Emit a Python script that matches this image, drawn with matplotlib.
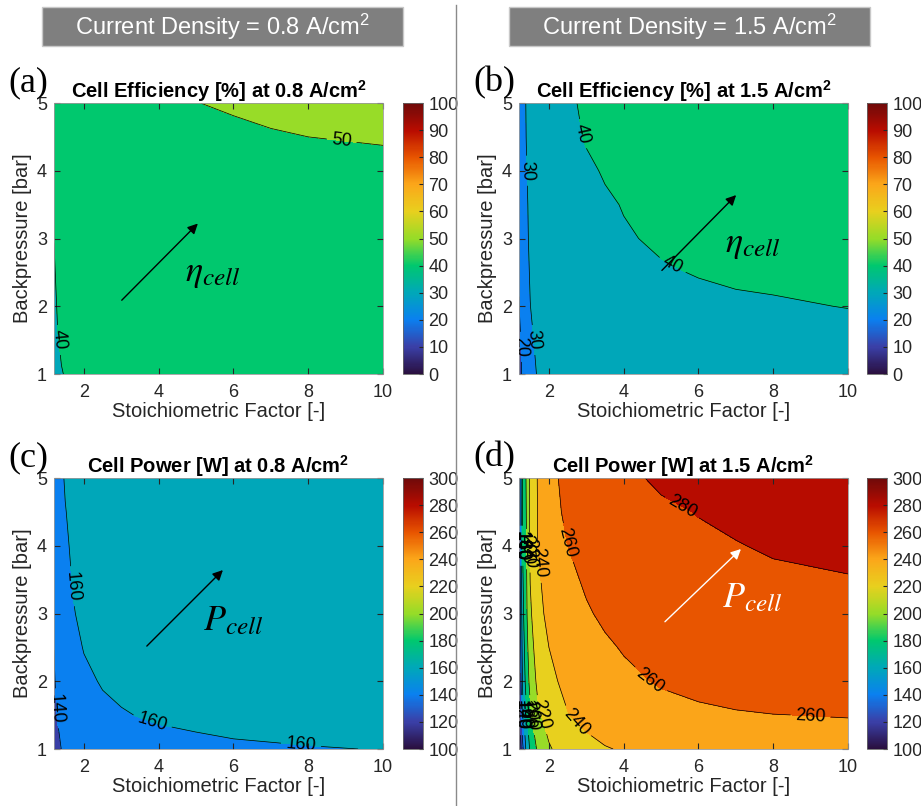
#!/usr/bin/env python3

import matplotlib
matplotlib.use("Agg")
import matplotlib.pyplot as plt
import numpy as np
from matplotlib.colors import LinearSegmentedColormap, Normalize
from matplotlib.patches import Rectangle
from matplotlib.lines import Line2D
import matplotlib.cm as cm

plt.rcParams['font.family'] = ['Liberation Sans', 'DejaVu Sans']
plt.rcParams['mathtext.fontset'] = 'custom'
plt.rcParams['mathtext.rm'] = 'Liberation Sans'
plt.rcParams['mathtext.bf'] = 'Liberation Sans:bold'
plt.rcParams['mathtext.it'] = 'Liberation Sans:italic'

# grid (stoichiometric factor x backpressure)
stoich = [1.2, 1.3, 1.4, 1.5, 1.7, 2, 2.5, 3, 3.5, 4, 5, 6, 7, 8, 10]
backpressure = [1, 1.5, 2, 2.5, 3, 3.5, 4, 4.5, 5]
backpressure_fine = [1, 1.25, 1.5, 2, 2.5, 3, 3.5, 4, 4.5, 5]

# cell efficiency [%] at 0.8 A/cm2 (rows = backpressure)
eff_08 = [
    [36.9, 39.0, 39.8, 40.2, 40.9, 41.6, 42.3, 42.8, 43.1, 43.3, 43.6, 43.9, 44.2, 44.4, 44.6],
    [37.7, 39.8, 40.6, 41.0, 41.7, 42.4, 43.1, 43.6, 43.9, 44.1, 44.4, 44.7, 45.0, 45.2, 45.4],
    [38.5, 40.6, 41.4, 41.8, 42.5, 43.2, 43.9, 44.4, 44.7, 44.9, 45.2, 45.5, 45.8, 46.0, 46.2],
    [39.3, 41.4, 42.2, 42.6, 43.3, 44.0, 44.7, 45.2, 45.5, 45.7, 46.0, 46.3, 46.6, 46.8, 47.0],
    [40.1, 42.2, 43.0, 43.4, 44.1, 44.8, 45.5, 46.0, 46.3, 46.5, 46.8, 47.1, 47.4, 47.6, 47.8],
    [40.9, 43.0, 43.8, 44.2, 44.9, 45.6, 46.3, 46.8, 47.1, 47.3, 47.6, 47.9, 48.2, 48.4, 48.6],
    [41.7, 43.8, 44.6, 45.0, 45.7, 46.4, 47.1, 47.6, 47.9, 48.1, 48.4, 48.7, 49.0, 49.2, 49.4],
    [42.5, 44.6, 45.4, 45.8, 46.5, 47.2, 47.9, 48.4, 48.7, 48.9, 49.2, 49.5, 49.8, 50.0, 50.2],
    [43.3, 45.4, 46.2, 46.6, 47.3, 48.0, 48.7, 49.2, 49.5, 49.7, 49.96, 50.3, 50.6, 50.8, 51.0],
]

# cell efficiency [%] at 1.5 A/cm2
eff_15 = [
    [15.9, 21.7, 25.2, 27.5, 30.5, 32.8, 34.8, 35.9, 36.5, 36.9, 37.5, 37.8, 38.1, 38.2, 38.4],
    [17.3, 23.0, 26.4, 28.7, 31.5, 33.8, 35.8, 36.8, 37.4, 37.8, 38.3, 38.7, 38.9, 39.0, 39.3],
    [19.8, 24.5, 27.7, 29.9, 32.6, 34.8, 36.7, 37.6, 38.2, 38.6, 39.1, 39.5, 39.7, 39.8, 40.05],
    [20.5, 25.1, 28.4, 30.5, 33.2, 35.5, 37.3, 38.3, 38.9, 39.3, 39.8, 40.1, 40.3, 40.4, 40.6],
    [21.0, 25.6, 28.9, 31.1, 33.8, 36.0, 37.8, 38.8, 39.4, 39.8, 40.3, 40.6, 40.8, 41.0, 41.2],
    [21.4, 26.0, 29.2, 31.4, 34.1, 36.3, 38.2, 39.2, 39.7, 40.1, 40.7, 41.0, 41.2, 41.3, 41.5],
    [21.8, 26.4, 29.7, 31.8, 34.5, 36.7, 38.6, 39.6, 40.2, 40.6, 41.1, 41.4, 41.6, 41.7, 41.9],
    [22.3, 27.0, 30.3, 32.4, 35.1, 37.3, 39.2, 40.2, 40.8, 41.2, 41.7, 42.0, 42.2, 42.3, 42.5],
    [22.6, 27.3, 30.6, 32.7, 35.4, 37.6, 39.5, 40.5, 41.1, 41.5, 42.0, 42.3, 42.5, 42.6, 42.8],
]

# cell power [W] at 0.8 A/cm2 (rows = backpressure_fine)
power_08 = [
    [120.1, 133.7, 140.5, 144.6, 149.3, 152.8, 155.5, 156.9, 157.7, 158.3, 159.0, 159.4, 159.6, 159.8, 160.1],
    [126.1, 138.0, 144.0, 147.5, 151.6, 154.7, 157.1, 158.3, 159.0, 159.5, 160.0, 160.4, 160.6, 160.8, 161.0],
    [132.1, 142.3, 147.4, 150.4, 153.9, 156.5, 158.6, 159.6, 160.2, 160.6, 161.1, 161.4, 161.6, 161.8, 162.0],
    [137.6, 146.4, 150.8, 153.4, 156.4, 158.7, 160.5, 161.3, 161.9, 162.2, 162.6, 162.9, 163.1, 163.2, 163.4],
    [140.2, 148.5, 152.7, 155.2, 158.1, 160.3, 162.0, 162.9, 163.4, 163.7, 164.1, 164.4, 164.6, 164.7, 164.8],
    [141.6, 149.9, 154.1, 156.6, 159.5, 161.6, 163.3, 164.1, 164.6, 164.9, 165.4, 165.6, 165.8, 165.9, 166.0],
    [142.5, 150.8, 155.0, 157.5, 160.4, 162.5, 164.2, 165.0, 165.5, 165.8, 166.3, 166.5, 166.7, 166.8, 166.9],
    [143.5, 151.8, 156.0, 158.5, 161.4, 163.5, 165.2, 166.0, 166.5, 166.8, 167.3, 167.5, 167.7, 167.8, 167.9],
    [144.6, 152.9, 157.1, 159.6, 162.5, 164.6, 166.3, 167.1, 167.6, 167.9, 168.4, 168.6, 168.8, 168.9, 169.0],
    [145.9, 154.2, 158.4, 160.9, 163.8, 165.9, 167.6, 168.4, 168.9, 169.2, 169.7, 169.9, 170.1, 170.2, 170.3],
]

# cell power [W] at 1.5 A/cm2 (rows = backpressure_fine)
power_15 = [
    [101, 136.3, 165.5, 183, 203, 218, 229.7, 235.5, 239, 241.3, 244.3, 246, 247.2, 248, 249.1],
    [103, 147, 171, 189, 211, 223, 234, 240, 244, 247, 251, 253.5, 255.2, 256.5, 257.5],
    [105, 154, 178, 196, 216, 228, 239.3, 245, 248.8, 251.5, 255.2, 257.6, 259.0, 259.8, 260.5],
    [110, 164, 189, 206, 224.5, 235.5, 245, 250.5, 254, 257, 261.3, 263.7, 265.4, 266.6, 268],
    [114, 170, 193, 212, 229.5, 240, 249, 254.5, 258, 261, 265, 267.5, 269.3, 270.5, 272],
    [118, 175, 197, 217, 234, 245, 253.5, 258.5, 262.5, 265.5, 269, 271.5, 273.3, 274.5, 276],
    [121, 178, 198.5, 220.5, 237, 247.5, 256.5, 262, 266.5, 269.5, 273, 275.5, 277.2, 278.4, 279.4],
    [124, 181, 200, 223, 240, 250.5, 260, 266, 270, 273, 276.2, 278.5, 279.6, 281.0, 283],
    [126, 183, 201, 224, 240.5, 252, 264, 269.5, 273, 275.8, 278.5, 280.3, 282, 283.3, 285.5],
    [127, 186, 202, 225, 241, 254, 266, 271, 274.5, 278, 281.5, 284, 285.8, 287, 289],
]

eff_levels = list(range(0, 101, 10))
power_levels = list(range(100, 301, 20))

# colormap sampled from the colorbar
cmap = LinearSegmentedColormap.from_list("cb", [
    "#2a0f3f", "#3a40a8", "#0a80f0", "#00a8b8", "#00c86e", "#96dc28",
    "#e8d01e", "#fba71a", "#e85500", "#b80c00", "#6e0a0a"])

fig = plt.figure(figsize=(9.21, 8.06), dpi=100)

# header boxes + divider
for x0, txt in [(42, "Current Density = 0.8 A/cm$^2$"), (509, "Current Density = 1.5 A/cm$^2$")]:
    fig.add_artist(Rectangle((x0 / 921, 1 - 46 / 806), 361 / 921, 39 / 806,
                             transform=fig.transFigure, facecolor="#7f7f7f",
                             edgecolor="#c8c8c8", lw=1))
    fig.text((x0 + 180.5) / 921, 1 - 27 / 806, txt, color="white", fontsize=17,
             ha="center", va="center")
fig.add_artist(Line2D([456 / 921, 456 / 921], [0, 1 - 5 / 806], transform=fig.transFigure,
                      color="#8a8a8a", lw=1))

panels = [
    # letter, left px, top px, y grid, z, levels, title, arrow tail, arrow head, symbol, symbol pos, colour, labels
    ("(a)", 54, 103, backpressure, eff_08, eff_levels, "Cell Efficiency [%] at 0.8 A/cm$^\\mathbf{2}$",
     (2.96, 2.06), (5.1, 3.25), r"$\eta_{cell}$", (5.45, 2.5), "k",
     [(50, (8.9, 4.48)), (40, (1.3, 1.5))]),
    ("(b)", 519, 103, backpressure, eff_15, eff_levels, "Cell Efficiency [%] at 1.5 A/cm$^\\mathbf{2}$",
     (4.97, 2.5), (7.06, 3.67), r"$\eta_{cell}$", (7.45, 2.93), "k",
     [(40, (2.95, 4.55)), (40, (5.25, 2.55)), (30, (1.38, 4.0)), (30, (1.55, 1.5)), (20, (1.22, 1.4))]),
    ("(c)", 54, 478, backpressure_fine, power_08, power_levels, "Cell Power [W] at 0.8 A/cm$^\\mathbf{2}$",
     (3.63, 2.49), (5.77, 3.67), r"$P_{cell}$", (6.0, 2.9), "k",
     [(160, (1.62, 3.4)), (160, (3.8, 1.35)), (160, (7.8, 1.02)), (140, (1.26, 1.6))]),
    ("(d)", 519, 478, backpressure_fine, power_15, power_levels, "Cell Power [W] at 1.5 A/cm$^\\mathbf{2}$",
     (5.05, 2.85), (7.19, 3.98), r"$P_{cell}$", (7.45, 3.23), "white",
     [(280, (5.6, 4.6)), (260, (2.55, 4.05)), (240, (1.8, 3.75)), (260, (4.6, 1.95)),
      (260, (9.0, 1.48)), (240, (2.65, 1.35)), (220, (1.48, 3.9)), (200, (1.41, 3.95)),
      (180, (1.32, 4.0)), (160, (1.26, 4.0)), (140, (1.22, 4.0)),
      (220, (1.75, 1.5)), (200, (1.53, 1.5)), (180, (1.4, 1.5)), (160, (1.33, 1.5)),
      (140, (1.27, 1.5)), (120, (1.22, 1.5))]),
]

for (letter, lpx, tpx, ys, z, levels, title, tail, head, sym, sympos, acol, labels) in panels:
    ax = fig.add_axes([lpx / 921, 1 - (tpx + 271) / 806, 329 / 921, 271 / 806])
    norm = Normalize(levels[0], levels[-1])
    band_colors = [cmap(norm(v)) for v in levels[:-1]]
    X, Y = np.meshgrid(stoich, ys)
    Z = np.array(z)
    ax.contourf(X, Y, Z, levels=levels, colors=band_colors)
    # one contour set per level so each label lands on its own line
    for lev in levels:
        if not (Z.min() < lev < Z.max()):
            continue
        cs = ax.contour(X, Y, Z, levels=[lev], colors="k", linewidths=0.5)
        spots = [pos for l, pos in labels if l == lev]
        if spots:
            ax.clabel(cs, manual=spots, inline=True, fontsize=13, fmt="%d")

    ax.annotate("", xy=head, xytext=tail,
                arrowprops=dict(arrowstyle="-|>", color=acol, lw=1, mutation_scale=15))
    ax.text(sympos[0], sympos[1], sym, color=acol, fontsize=26, ha="center", va="center",
            math_fontfamily="stix")

    ax.set_xlim(1.2, 10)
    ax.set_ylim(1, 5)
    ax.set_xticks([2, 4, 6, 8, 10])
    ax.set_yticks([1, 2, 3, 4, 5])
    ax.tick_params(direction="in", top=True, right=True, length=4, labelsize=13,
                   colors="#262626")
    ax.tick_params(axis="x", pad=7)
    ax.tick_params(axis="y", pad=5)
    for s in ax.spines.values():
        s.set_color("#9a9a9a")
        s.set_linewidth(0.6)
    ax.set_title(title, fontweight="bold", fontsize=14.5, pad=4)
    ax.set_xlabel("Stoichiometric Factor [-]", fontsize=14.5, color="#262626", labelpad=1)
    ax.set_ylabel("Backpressure [bar]", fontsize=14.5, color="#262626", labelpad=4)

    # colorbar
    cpx = 403 if lpx < 400 else 867
    cax = fig.add_axes([cpx / 921, 1 - (tpx + 271) / 806, 20 / 921, 271 / 806])
    sm = cm.ScalarMappable(norm=norm, cmap=cmap)
    cb = fig.colorbar(sm, cax=cax, ticks=levels)
    cb.outline.set_edgecolor("#666666")
    cb.outline.set_linewidth(0.6)
    cax.tick_params(labelsize=13, direction="in", length=3, colors="#262626", pad=4)

    # panel letter
    fig.text((lpx - 46) / 921, 1 - (tpx - 20) / 806, letter, fontsize=26,
             family="Liberation Serif", ha="left", va="center")

plt.savefig("out.png", dpi=100)
